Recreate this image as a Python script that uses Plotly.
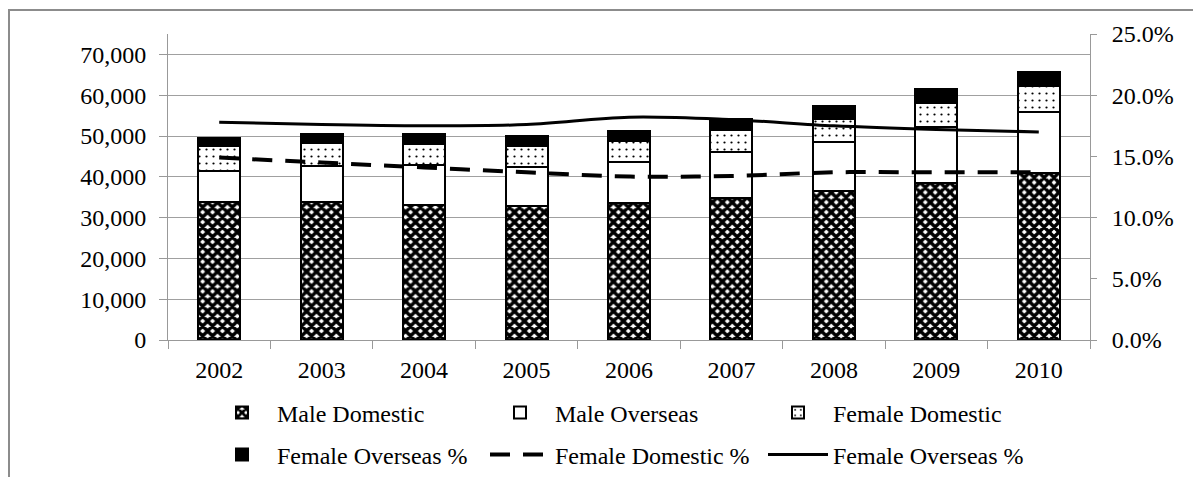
import plotly.graph_objects as go

years = ["2002", "2003", "2004", "2005", "2006", "2007", "2008", "2009", "2010"]
male_domestic = [33800, 33900, 33200, 32800, 33700, 34900, 36500, 38600, 41000]
male_overseas = [7600, 8800, 9800, 9600, 9850, 11200, 12050, 13600, 15000]
female_domestic = [6200, 5700, 5000, 5200, 5150, 5300, 5700, 6000, 6350]
female_overseas = [1900, 2200, 2600, 2300, 2450, 2850, 3000, 3200, 3450]
female_domestic_pct = [0.149, 0.145, 0.141, 0.137, 0.1335, 0.134, 0.137, 0.137, 0.137]
female_overseas_pct = [0.178, 0.176, 0.175, 0.176, 0.182, 0.180, 0.175, 0.172, 0.170]

FONT = "Liberation Serif"
FS = 24
OFF = 8  # page body margin
FW, FH = 1201 - OFF, 477 - OFF

fig = go.Figure()

bar_line = dict(color="black", width=2)
fig.add_bar(x=years, y=male_domestic, name="Male Domestic", legend="legend",
            marker=dict(color="white", line=bar_line,
                        pattern=dict(shape="x", fgcolor="black", bgcolor="white",
                                     size=7, solidity=0.75, fillmode="replace")))
fig.add_bar(x=years, y=male_overseas, name="Male Overseas", legend="legend",
            marker=dict(color="white", line=bar_line))
fig.add_bar(x=years, y=female_domestic, name="Female Domestic", legend="legend",
            marker=dict(color="white", line=bar_line,
                        pattern=dict(shape=".", fgcolor="black", bgcolor="white",
                                     size=7, solidity=0.08, fillmode="replace")))
fig.add_bar(x=years, y=female_overseas, name="Female Overseas %", legend="legend2",
            marker=dict(color="black", line=bar_line))
fig.add_scatter(x=years, y=female_domestic_pct, name="Female Domestic %", yaxis="y2",
                legend="legend2", mode="lines",
                line=dict(color="black", width=4, dash="20px,13px", shape="spline"))
fig.add_scatter(x=years, y=female_overseas_pct, name="Female Overseas %", yaxis="y2",
                legend="legend2", mode="lines",
                line=dict(color="black", width=3, shape="spline"))

# plot area in reference pixels: x 168..1090, y 34..340 (shifted by page margin)
L, R, T, B = 168 - OFF, 1090 - OFF, 34 - OFF, 340 - OFF
W, H = R - L, B - T
px = lambda x: (x - OFF - L) / W   # takes reference-screen x
py = lambda y: (B - (y - OFF)) / H  # takes reference-screen y

leg_common = dict(orientation="h", xanchor="left", yanchor="middle",
                  entrywidth=203, entrywidthmode="pixels", itemwidth=60,
                  font=dict(family=FONT, size=FS), traceorder="normal",
                  bgcolor="rgba(0,0,0,0)")

fig.update_layout(
    width=FW, height=FH,
    margin=dict(l=L, r=FW - R, t=T, b=FH - B, autoexpand=False),
    barmode="stack", bargap=0.59,
    plot_bgcolor="white", paper_bgcolor="white",
    font=dict(family=FONT, size=FS, color="black"),
    showlegend=True,
    legend=dict(x=px(207), y=py(413), **leg_common),
    legend2=dict(x=px(207), y=py(455), **leg_common),
    xaxis=dict(showline=True, linecolor="#999999", linewidth=1, ticks="outside",
               tickson="boundaries", ticklen=8, tickcolor="#999999", showgrid=False,
               ticklabelstandoff=8, tickfont=dict(family=FONT, size=FS)),
    yaxis=dict(range=[0, 75000], dtick=10000, tickformat=",", showline=True,
               linecolor="#999999", linewidth=1, ticks="outside", ticklen=8,
               tickcolor="#999999", showgrid=True, gridcolor="#a0a0a0", gridwidth=1,
               zeroline=False, ticklabelstandoff=8, tickfont=dict(family=FONT, size=FS)),
    yaxis2=dict(range=[0, 0.25], dtick=0.05, tickformat=".1%", overlaying="y", side="right",
                showline=True, linecolor="#999999", linewidth=1, ticks="outside", ticklen=6,
                tickcolor="#999999", showgrid=False, zeroline=False, ticklabelstandoff=10,
                tickfont=dict(family=FONT, size=FS)),
)

fig.add_shape(type="line", xref="paper", yref="paper", x0=px(8), x1=px(1210), y0=py(10), y1=py(10),
              line=dict(color="#8c8c8c", width=2))
fig.add_shape(type="line", xref="paper", yref="paper", x0=px(9), x1=px(9), y0=py(10), y1=py(490),
              line=dict(color="#8c8c8c", width=2))

fig.write_html("out.html")
